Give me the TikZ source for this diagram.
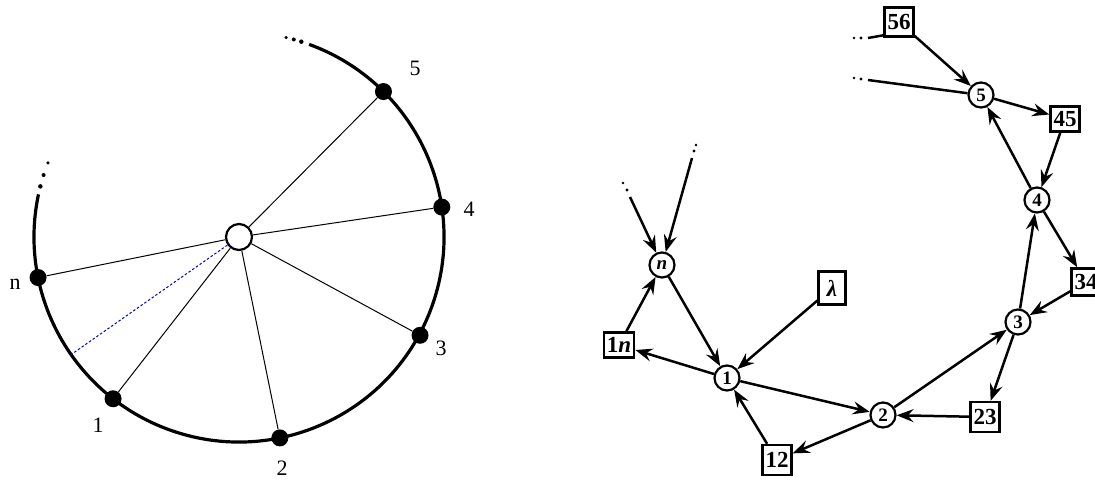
\documentclass[tikz,border=0pt]{standalone}
\usepackage{fontspec}
\setmainfont{Liberation Serif}
\usetikzlibrary{arrows.meta}
\begin{document}
\begin{tikzpicture}[x=1pt,y=-1pt,
  vtx/.style={circle,fill=black,inner sep=0pt,minimum size=17pt},
  spoke/.style={line width=1pt},
  rim/.style={line width=3.2pt},
  lab/.style={font=\fontsize{22}{22}\selectfont},
  st/.style={circle,draw,line width=2.2pt,inner sep=0pt,minimum size=25pt,font=\fontsize{19}{19}\selectfont\bfseries},
  bx/.style={draw,line width=2.4pt,inner xsep=3pt,inner ysep=2pt,minimum width=28pt,minimum height=27pt,font=\fontsize{23}{23}\selectfont\bfseries},
  ed/.style={line width=2.5pt,-{Stealth[length=17pt,width=13pt,inset=6pt]}},
  pl/.style={line width=2.5pt},
  sdot/.style={circle,fill=black,inner sep=0pt,minimum size=#1}
]
\useasboundingbox (0,0) rectangle (1095,480);
% ---------- left: circle diagram ----------
\begin{scope}[shift={(239,237)},y=1pt]
  \draw[rim] (70:205) arc[start angle=70, end angle=-192, radius=205];
  \node[sdot=4.5pt] (t1) at (72.3:205) {};
  \node[sdot=4pt] (t2) at (74.5:205) {};
  \node[sdot=3.5pt] (t3) at (76.7:205) {};
  \node[sdot=4.5pt] (l1) at (165.7:205) {};
  \node[sdot=4pt] (l2) at (162.4:205) {};
  \node[sdot=3.5pt] (l3) at (158.8:205) {};
  \node[circle,draw,line width=2.2pt,minimum size=26pt,inner sep=0pt,fill=white] (c) at (0,0) {};
  \node[vtx] (v5) at (45.2:205) {};
  \node[vtx] (v4) at (8.4:205) {};
  \node[vtx] (v3) at (-28.5:206) {};
  \node[vtx] (v2) at (-78.5:205) {};
  \node[vtx] (v1) at (-127.9:205) {};
  \node[vtx] (vn) at (191.4:205) {};
  \coordinate (d) at (215:205);
  \foreach \v in {v5,v4,v3,v2,v1,vn} \draw[spoke] (c) -- (\v);
  \draw[blue!80!black,line width=1pt,dash pattern=on 2.5pt off 2pt] (c) -- (d);
\end{scope}
\node[lab] (L5) at (415,68) {5};
\node[lab] (L4) at (469,209) {4};
\node[lab] (L3) at (441,348) {3};
\node[lab] (L2) at (282,468) {2};
\node[lab] (L1) at (98,425) {1};
\node[lab] (Ln) at (15,284) {n};
% ---------- right: graph ----------
\node[st] (n) at (662,265) {\itshape n};
\node[st] (s1) at (727,378) {1};
\node[st] (s2) at (883,415) {2};
\node[st] (s3) at (1018,322) {3};
\node[st] (s4) at (1037,200) {4};
\node[st] (s5) at (981,95) {5};
\node[bx,minimum height=25pt] (b1n) at (619,345) {1\textit{n}};
\node[bx,minimum height=33pt,minimum width=27pt] (bl) at (832,288) {\textit{λ}};
\node[bx,minimum height=30pt] (b12) at (777,460) {12};
\node[bx,minimum height=30pt] (b23) at (985,417) {23};
\node[bx] (b34) at (1086,282) {34};
\node[bx,minimum height=25pt] (b45) at (1065,119) {45};
\node[bx,minimum height=29pt] (b56) at (899,22) {56};
% dotted stubs
\coordinate (nL) at (630,197);
\coordinate (nR) at (692,158);
\coordinate (f5) at (868,80);
\coordinate (f56) at (868,38);
\coordinate (b56a) at (885,35);
\node[sdot=3.2pt] (d1) at (627,190) {};
\node[sdot=2.7pt] (d2) at (623,183) {};
\node[sdot=3.2pt] (d3) at (694,151) {};
\node[sdot=2.7pt] (d4) at (696,145) {};
\node[sdot=3.2pt] (d5) at (861,79) {};
\node[sdot=2.7pt] (d6) at (854,78) {};
\node[sdot=3.2pt] (d7) at (861,38) {};
\node[sdot=2.7pt] (d8) at (854,38) {};
% edges
\draw[ed] (nL) -- (n);
\draw[ed] (nR) -- (n);
\draw[ed] (n) -- (s1);
\draw[ed] (s1) -- (b1n);
\draw[ed] (b1n) -- (n);
\draw[ed] (bl) -- (s1);
\draw[ed] (s1) -- (s2);
\draw[ed] (b12) -- (s1);
\draw[ed] (s2) -- (b12);
\draw[ed] (b23) -- (s2);
\draw[ed] (s2) -- (s3);
\draw[ed] (s3) -- (b23);
\draw[ed] (b34) -- (s3);
\draw[ed] (s3) -- (s4);
\draw[ed] (s4) -- (b34);
\draw[ed] (b45) -- (s4);
\draw[ed] (s4) -- (s5);
\draw[ed] (s5) -- (b45);
\draw[ed] (b56) -- (s5);
\draw[pl] (s5) -- (f5);
\draw[pl] (b56a) -- (f56);
\end{tikzpicture}
\end{document}
